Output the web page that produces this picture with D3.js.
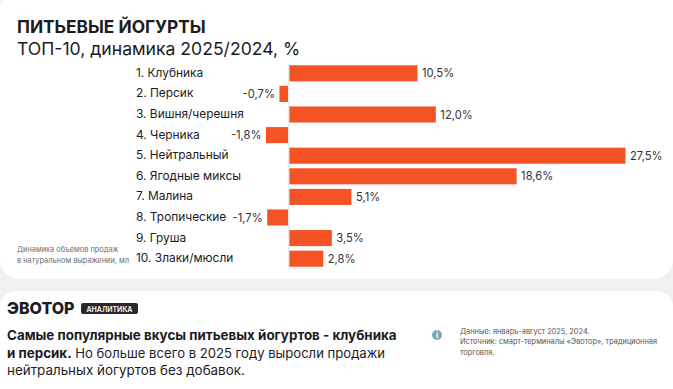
<!DOCTYPE html>
<html>
<head>
<meta charset="utf-8">
<script src="https://cdn.jsdelivr.net/npm/d3@7"></script>
<style>
  html, body { margin: 0; padding: 0; background: #f0f1f3; overflow: hidden; }
  text { font-family: Inter, "Noto Sans", sans-serif; }
</style>
</head>
<body>
<div id="chart"></div>
<script>
const categories = ["1. Клубника", "2. Персик", "3. Вишня/черешня", "4. Черника", "5. Нейтральный",
  "6. Ягодные миксы", "7. Малина", "8. Тропические", "9. Груша", "10. Злаки/мюсли"];
const values = [10.5, -0.7, 12.0, -1.8, 27.5, 18.6, 5.1, -1.7, 3.5, 2.8];
const noteLines = ["Динамика объемов продаж", "в натуральном выражении, мл"];
const sourceLines = ["Данные: январь-август 2025, 2024.", "Источник: смарт-терминалы «Эвотор», традиционная", "торговля."];

const width = 673, height = 389;
const orange = "#f35325", ink = "#1c1b1f";

const svg = d3.select("#chart").append("svg")
  .attr("width", width)
  .attr("height", height)
  .style("display", "block");

// cards
svg.append("rect").attr("x", 0).attr("y", -30).attr("width", width).attr("height", 309).attr("rx", 20).attr("fill", "#fff");
svg.append("rect").attr("x", 0).attr("y", 291).attr("width", width).attr("height", 120).attr("rx", 16).attr("fill", "#fff");
svg.append("path").attr("d", "M0 0H5Q0 0 0 5Z").attr("fill", "#f0f1f3");

// titles
svg.append("text").attr("x", 17).attr("y", 33).attr("font-size", 17.3).attr("font-weight", 700).attr("fill", ink).text("ПИТЬЕВЫЕ ЙОГУРТЫ");
svg.append("text").attr("x", 17).attr("y", 55).attr("font-size", 17.6).attr("fill", ink).text("ТОП-10, динамика 2025/2024, %");

const x = d3.scaleLinear().domain([0, 27.5]).range([288.5, 625]);
const y = d3.scaleBand().domain(categories).range([63, 269]).paddingInner(0.22).paddingOuter(0.11);

const fmt = v => d3.format(".1f")(v).replace("−", "-").replace(".", ",") + "%";
const rows = categories.map((c, i) => ({ c, v: values[i] }));

svg.append("g").selectAll("rect").data(rows).enter().append("rect")
  .attr("x", d => Math.min(x(0), x(d.v)) + (d.v > 0 ? 0.5 : -0.5))
  .attr("y", d => y(d.c))
  .attr("width", d => Math.abs(x(d.v) - x(0)))
  .attr("height", y.bandwidth())
  .attr("fill", orange);

// zero line
svg.append("g").attr("transform", `translate(${x(0)},0)`)
  .call(d3.axisLeft(y).tickSize(0).tickFormat(""))
  .call(g => g.select(".domain").attr("stroke", "#d9d9d9").attr("stroke-width", 1));

// category names
svg.append("g").selectAll("text").data(rows).enter().append("text")
  .attr("x", 136)
  .attr("y", d => y(d.c) + y.bandwidth() / 2 + 3.5)
  .attr("font-size", 11.9)
  .attr("fill", ink)
  .text(d => d.c);

// value labels
svg.append("g").selectAll("text").data(rows).enter().append("text")
  .attr("x", d => d.v > 0 ? x(d.v) + 5 : x(d.v) - 5)
  .attr("y", d => y(d.c) + y.bandwidth() / 2 + 4)
  .attr("text-anchor", d => d.v > 0 ? "start" : "end")
  .attr("font-size", 11.2)
  .attr("fill", "#333")
  .text(d => fmt(d.v));

// side note
svg.append("g").selectAll("text").data(noteLines).enter().append("text")
  .attr("x", 17)
  .attr("y", (d, i) => 252 + i * 11)
  .attr("font-size", 7.4)
  .attr("fill", "#6d6d6d")
  .text(d => d);

// brand
svg.append("text").attr("x", 7).attr("y", 314).attr("font-size", 16).attr("font-weight", 800).attr("fill", ink).text("ЭВОТОР");
svg.append("rect").attr("x", 81).attr("y", 303).attr("width", 57).attr("height", 11).attr("rx", 2).attr("fill", "#2a2829");
svg.append("text").attr("x", 109.5).attr("y", 311.5).attr("text-anchor", "middle").attr("font-size", 7).attr("font-weight", 600).attr("fill", "#fff").text("АНАЛИТИКА");

// summary
const summary = svg.append("g").attr("font-size", 13.4).attr("fill", ink);
summary.append("text").attr("x", 7).attr("y", 340).attr("font-weight", 700).text("Самые популярные вкусы питьевых йогуртов - клубника");
const line2 = summary.append("text").attr("x", 7).attr("y", 358);
line2.append("tspan").attr("font-weight", 700).text("и персик.");
line2.append("tspan").attr("font-size", 13.1).text(" Но больше всего в 2025 году выросли продажи");
summary.append("text").attr("x", 7).attr("y", 375).text("нейтральных йогуртов без добавок.");

// info icon and source
svg.append("circle").attr("cx", 437).attr("cy", 335).attr("r", 5).attr("fill", "#7fa6b2");
svg.append("text").attr("x", 437).attr("y", 338).attr("text-anchor", "middle").attr("font-size", 8).attr("font-weight", 700).attr("fill", "#fff").text("i");
svg.append("g").selectAll("text").data(sourceLines).enter().append("text")
  .attr("x", 460)
  .attr("y", (d, i) => 333.5 + i * 10.5)
  .attr("font-size", 7.4)
  .attr("fill", "#555")
  .text(d => d);
</script>
</body>
</html>
